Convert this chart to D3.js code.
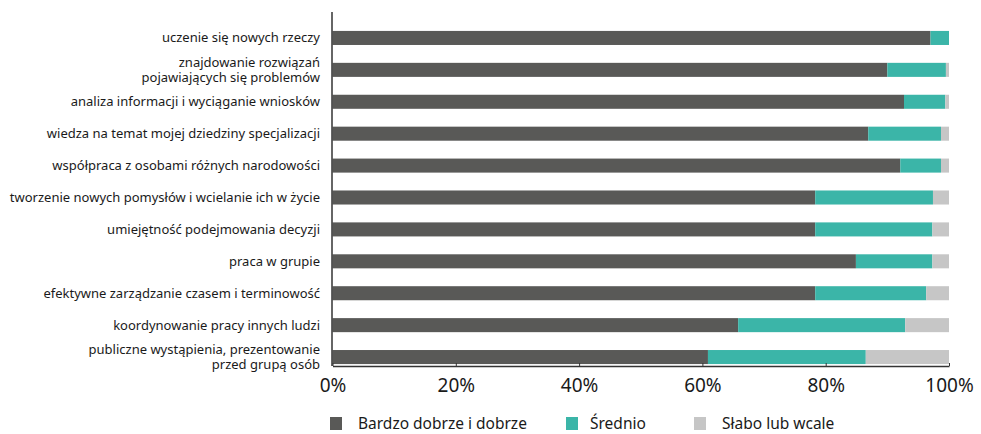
<!DOCTYPE html>
<html><head><meta charset="utf-8">
<script src="https://cdn.jsdelivr.net/npm/d3@7"></script>
<style>body{margin:0;background:#fff}svg{display:block}text{font-family:"Noto Sans",sans-serif;fill:#1a1a1a}</style>
</head><body>
<svg id="c" width="981" height="434"></svg>
<script>
const categories = [
  ["uczenie się nowych rzeczy"],
  ["znajdowanie rozwiązań","pojawiających się problemów"],
  ["analiza informacji i wyciąganie wniosków"],
  ["wiedza na temat mojej dziedziny specjalizacji"],
  ["współpraca z osobami różnych narodowości"],
  ["tworzenie nowych pomysłów i wcielanie ich w życie"],
  ["umiejętność podejmowania decyzji"],
  ["praca w grupie"],
  ["efektywne zarządzanie czasem i terminowość"],
  ["koordynowanie pracy innych ludzi"],
  ["publiczne wystąpienia, prezentowanie","przed grupą osób"]
];
const seriesNames = ["Bardzo dobrze i dobrze","Średnio","Słabo lub wcale"];
const good   = [97.0, 90.0, 92.7, 86.9, 92.1, 78.3, 78.3, 84.9, 78.3, 65.8, 60.9];
const medium = [3.0, 9.5, 6.7, 11.8, 6.6, 19.1, 19.0, 12.4, 18.0, 27.1, 25.6];
const weak   = [0.0, 0.5, 0.6, 1.3, 1.3, 2.6, 2.7, 2.7, 3.7, 7.1, 13.5];
const tickValues = [0, 20, 40, 60, 80, 100];
const colors = ["#595957", "#3bb5a8", "#c6c6c6"];

const svg = d3.select("#c");
const x = d3.scaleLinear().domain([0, 100]).range([332.5, 949]);
const y = d3.scaleBand().domain(d3.range(categories.length)).range([22, 373]).paddingInner(0.56).paddingOuter(0.28);

const rows = categories.map((c, i) => ({i, good: good[i], medium: medium[i], weak: weak[i]}));
const stack = d3.stack().keys(["good","medium","weak"])(rows);

svg.append("g").selectAll("g").data(stack).join("g")
  .attr("fill", (d, k) => colors[k])
  .selectAll("rect").data(d => d).join("rect")
  .attr("x", d => x(d[0]))
  .attr("width", d => Math.max(0, x(d[1]) - x(d[0])))
  .attr("y", d => y(d.data.i))
  .attr("height", y.bandwidth());

// axes
const xAxis = svg.append("g").attr("transform", "translate(0,366)")
  .call(d3.axisBottom(x).tickValues(tickValues).tickFormat(d => d + "%").tickSize(-3).tickSizeOuter(0));
xAxis.select(".domain").attr("stroke", "#333").attr("stroke-width", 1.5);
xAxis.selectAll(".tick line").attr("stroke", "#333");
xAxis.selectAll(".tick text").attr("dy", 0).attr("y", 26).style("font-size", "19px").style("fill", "#1a1a1a")
  .style("font-family", '"Noto Sans",sans-serif');

svg.append("line").attr("x1", 332).attr("x2", 332).attr("y1", 12).attr("y2", 366)
  .attr("stroke", "#333").attr("stroke-width", 1.5);

// category labels
const lab = svg.append("g").selectAll("text").data(categories).join("text")
  .attr("text-anchor", "end")
  .attr("x", 320)
  .attr("y", (d, i) => y(i) + y.bandwidth() / 2)
  .style("font-size", "13px");
lab.each(function(d) {
  const t = d3.select(this);
  const n = d.length;
  d.forEach((line, j) => {
    t.append("tspan").attr("x", 320)
      .attr("dy", j === 0 ? ((-(n - 1) * 15) / 2 + 4.5) : 15)
      .text(line);
  });
});

// legend
const legX = [330, 566, 694];
const leg = svg.append("g").selectAll("g").data(seriesNames).join("g")
  .attr("transform", (d, i) => `translate(${legX[i]},417)`);
leg.append("rect").attr("width", 12).attr("height", 13).attr("fill", (d, i) => colors[i]);
leg.append("text").attr("x", (d, i) => i === 1 ? 24 : 28).attr("y", 12)
  .style("font-size", "15.5px").text(d => d);
</script>
</body></html>
